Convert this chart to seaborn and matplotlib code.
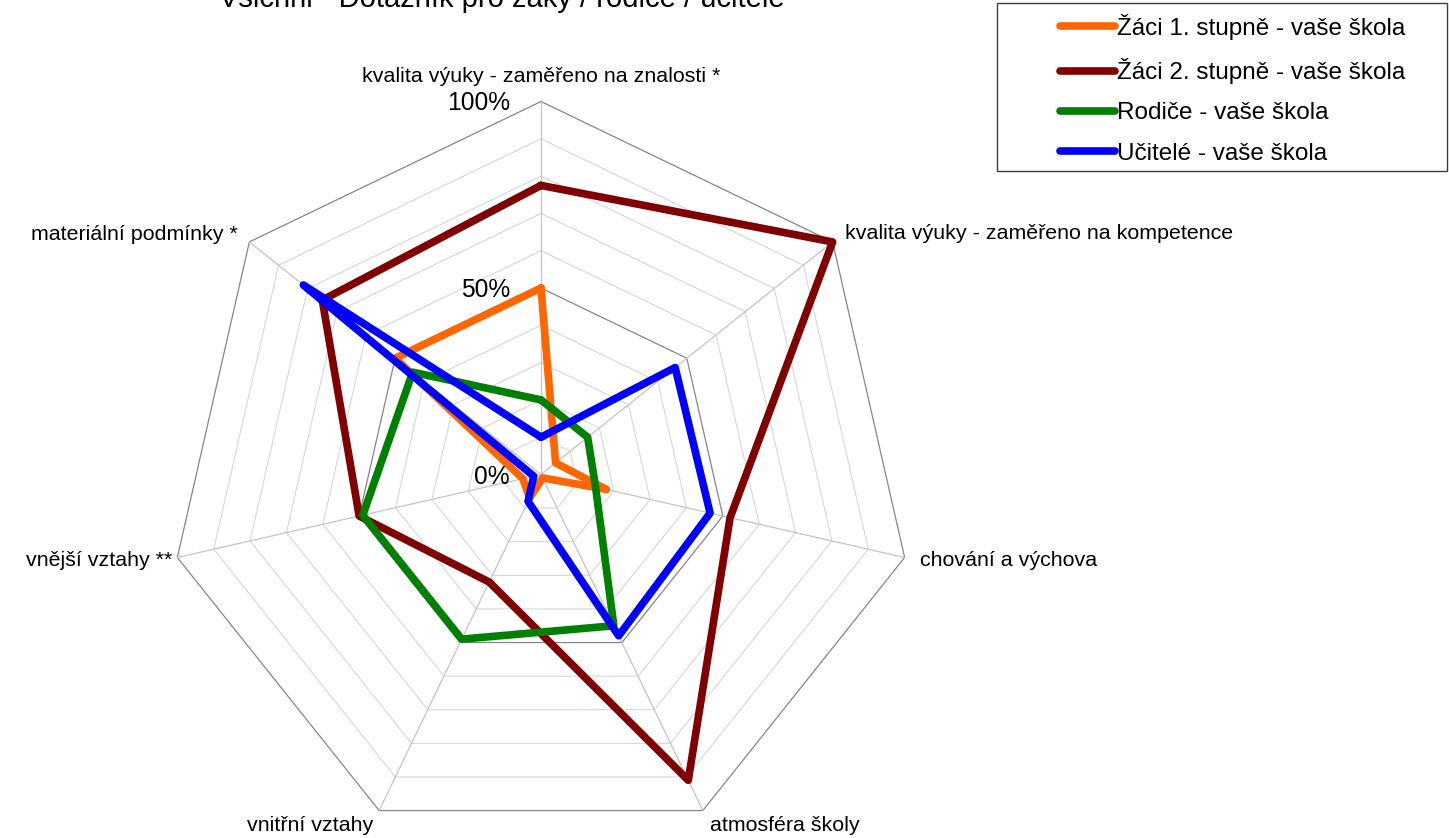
import numpy as np
import pandas as pd
import matplotlib
matplotlib.use('Agg')
import matplotlib.pyplot as plt
from matplotlib.lines import Line2D
from matplotlib.patches import Rectangle
import seaborn as sns

# ---- data (shares, 0..1), clockwise from the top ----
categories = [
    'kvalita výuky - zaměřeno na znalosti *',
    'kvalita výuky - zaměřeno na kompetence',
    'chování a výchova',
    'atmosféra školy',
    'vnitřní vztahy',
    'vnější vztahy **',
    'materiální podmínky *',
]
series_names = [
    'Žáci 1. stupně - vaše škola',
    'Žáci 2. stupně - vaše škola',
    'Rodiče - vaše škola',
    'Učitelé - vaše škola',
]
zaci1 = [0.50, 0.05, 0.18, 0.01, 0.07, 0.05, 0.50]
zaci2 = [0.775, 1.00, 0.52, 0.91, 0.32, 0.50, 0.75]
rodice = [0.20, 0.16, 0.15, 0.45, 0.49, 0.49, 0.44]
ucitele = [0.10, 0.46, 0.465, 0.48, 0.08, 0.02, 0.815]
tick_values = [0.0, 0.5, 1.0]
title = 'Všichni - Dotazník pro žáky / rodiče / učitele'

colors = ['#ff6600', '#800000', '#008000', '#0000ff']

sns.set_theme(style='white')
plt.rcParams['font.family'] = ['Liberation Sans', 'DejaVu Sans']
plt.rcParams['text.color'] = 'black'

# ---- long table for seaborn ----
n = len(categories)
angles = np.linspace(0, 2 * np.pi, n, endpoint=False)
theta_closed = np.append(angles, 2 * np.pi)
rows = []
for name, vals in zip(series_names, [zaci1, zaci2, rodice, ucitele]):
    vals_closed = list(vals) + [vals[0]]
    for th, v in zip(theta_closed, vals_closed):
        rows.append({'serie': name, 'theta': th, 'hodnota': v})
df = pd.DataFrame(rows)

# ---- figure / polar axes ----
W, H = 1449, 838
fig = plt.figure(figsize=(W / 100, H / 100), dpi=100)
cx, cy, R = 541, H - 474.5, 373
ax = fig.add_axes([(cx - R) / W, (cy - R) / H, 2 * R / W, 2 * R / H], projection='polar')
ax.set_theta_zero_location('N')
ax.set_theta_direction(-1)

sns.lineplot(data=df, x='theta', y='hodnota', hue='serie', hue_order=series_names,
             palette=dict(zip(series_names, colors)), sort=False, estimator=None,
             linewidth=5.5, legend=False, ax=ax, zorder=3)
series_lines = list(ax.get_lines())
for ln in series_lines:
    ln.set_solid_joinstyle('round')
    ln.set_solid_capstyle('round')
    ln.set_clip_on(False)

# polygon grid (every 10 %), darker at 50 % and 100 %
for lvl in np.arange(0.1, 1.001, 0.1):
    major = np.isclose(lvl, 0.5) or np.isclose(lvl, 1.0)
    ax.plot(theta_closed, [lvl] * (n + 1), color='#868686' if major else '#d2d2d2',
            lw=0.9 if major else 0.7, zorder=1, clip_on=False)
for a in angles:
    ax.plot([a, a], [0, 1], color='#c4c4c4', lw=0.9, zorder=1, clip_on=False)

ax.set_ylim(0, 1)
ax.set_xticks([])
ax.set_yticks([])
ax.grid(False)
ax.spines['polar'].set_visible(False)
ax.set_facecolor('none')
ax.set_xlabel('')
ax.set_ylabel('')

# radial tick labels
for v in tick_values:
    ax.annotate(f'{int(round(v * 100))}%', xy=(0, v), xytext=(-31, -2),
                textcoords='offset pixels', ha='right', va='center', fontsize=17.7,
                color='black', annotation_clip=False)

# category labels
label_layout = [
    ((0, 25), 'center'),
    ((12, 8), 'left'),
    ((15, -3), 'left'),
    ((7, -15), 'left'),
    ((-6, -15), 'right'),
    ((-5, -3), 'right'),
    ((-12, 7), 'right'),
]
for a, lab, (off, ha) in zip(angles, categories, label_layout):
    ax.annotate(lab, xy=(a, 1), xytext=off, textcoords='offset pixels',
                ha=ha, va='center', fontsize=15.4, color='black', annotation_clip=False)

# title (cut off at the top edge, as in the original)
fig.text(502 / W, 1 - 7 / H, title, ha='center', va='baseline', fontsize=21, color='black')

# legend with a plain rectangular frame
handles = [Line2D([0], [0], color=c, lw=5.5, solid_capstyle='round') for c in colors]
fig.legend(handles, series_names, loc='upper left', bbox_to_anchor=(1060 / W, 1 - 14 / H),
           frameon=False, fontsize=17.5, handlelength=2.26, handletextpad=0.08,
           labelspacing=0.75, borderpad=0, borderaxespad=0, labelcolor='black')
fig.patches.append(Rectangle((997 / W, 1 - 171 / H), 450 / W, 168 / H,
                             transform=fig.transFigure, fill=False,
                             edgecolor='#404040', lw=1))

fig.savefig('out.png', dpi=100)
